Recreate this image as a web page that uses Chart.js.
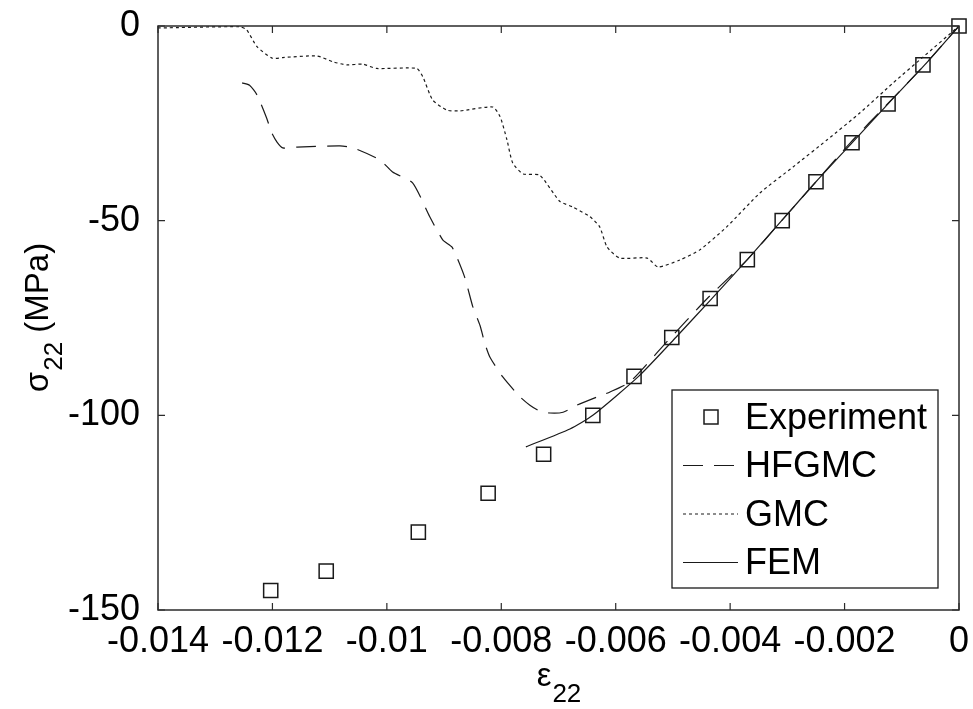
<!DOCTYPE html>
<html>
<head>
<meta charset="utf-8">
<script src="https://cdn.jsdelivr.net/npm/chart.js@4.4.1/dist/chart.umd.min.js"></script>
<style>
  html, body { margin: 0; padding: 0; background: #fff; }
  #wrap { width: 973px; height: 709px; }
</style>
</head>
<body>
<div id="wrap"><canvas id="myChart" width="973" height="709"></canvas></div>
<script>
// axis ticks
const xTicks = [-0.014, -0.012, -0.01, -0.008, -0.006, -0.004, -0.002, 0]
const xTickLabels = ['-0.014', '-0.012', '-0.01', '-0.008', '-0.006', '-0.004', '-0.002', '0']
const yTicks = [-150, -100, -50, 0]
const yTickLabels = ['-150', '-100', '-50', '0']

// Experiment (squares)
const expX = [0, -0.00063, -0.00124, -0.00187, -0.0025, -0.00309, -0.0037, -0.00435, -0.00502, -0.00568, -0.0064, -0.00726, -0.00823, -0.00945, -0.01106, -0.01203]
const expY = [0, -10, -20, -30, -40, -50, -60, -70, -80, -90, -100, -110, -120, -130, -140, -145]

// HFGMC (dashed)
const hfgmcX = [-0.01253, -0.0124, -0.01227, -0.0121, -0.01201, -0.01192, -0.01182, -0.01157, -0.01082, -0.01059, -0.01012, -0.0099, -0.00955, -0.00925, -0.00902, -0.00886, -0.00864, -0.0085, -0.00837, -0.00829, -0.0082, -0.00797, -0.00767, -0.0075, -0.00733, -0.00715, -0.00692, -0.00668, -0.00633, -0.0061, -0.00575, -0.0051, -0.0044, -0.0037, -0.0031, -0.0025, -0.0019, -0.00125, -0.0006, 0]
const hfgmcY = [-14.6, -15.2, -17.7, -23.7, -27.5, -29.8, -31.3, -31.1, -30.8, -31.3, -34.4, -37.5, -40.3, -49, -55, -56.8, -64.5, -72, -77, -81.4, -85, -90.2, -95.3, -97.4, -98.9, -99.4, -99.2, -97.4, -95.3, -94, -91.4, -81, -70, -60, -50, -40, -30, -20, -10, 0]

// GMC (dotted)
const gmcX = [-0.014, -0.01257, -0.01245, -0.01227, -0.012, -0.01182, -0.01122, -0.01094, -0.0107, -0.01042, -0.01018, -0.00948, -0.00937, -0.0092, -0.00895, -0.00872, -0.00815, -0.00802, -0.0079, -0.0078, -0.00762, -0.00733, -0.00698, -0.00675, -0.00645, -0.00628, -0.00615, -0.00593, -0.00545, -0.00526, -0.00488, -0.00453, -0.00406, -0.00348, -0.0029, -0.00231, -0.00173, -0.00115, -0.00063, 0]
const gmcY = [-0.5, -0.2, -1, -5.3, -8.3, -8.1, -7.7, -9.2, -10, -9.8, -10.9, -10.9, -13.1, -19, -21.6, -21.8, -20.8, -23.3, -29.3, -35.2, -38, -38.3, -45, -46.5, -49, -51.6, -56.8, -59.6, -59.6, -61.9, -60.1, -57.5, -51.6, -42.9, -36.2, -29.3, -22.3, -14.6, -8, 0]

// FEM (solid)
const femX = [-0.00757, -0.0068, -0.0064, -0.0056, -0.00495, -0.00432, -0.0037, -0.0031, -0.0025, -0.00187, -0.00124, -0.0006, 0]
const femY = [-108.1, -103.5, -100, -90, -80, -70, -60, -50, -40, -30, -20, -10, 0]

const pts = (xs, ys) => xs.map((x, i) => ({x: x, y: ys[i]}))

const FONT = "'Liberation Sans', Arial, sans-serif"
const INK = '#1a1a1a'

// draws box, inward ticks, axis titles with subscripts and the legend
const matlabLook = {
    id: 'matlabLook',
    afterDraw(chart) {
        const ctx = chart.ctx
        const a = chart.chartArea
        const xs = chart.scales.x, ys = chart.scales.y
        ctx.save()
        ctx.strokeStyle = '#2b2b2b'
        ctx.lineWidth = 1.5
        ctx.strokeRect(a.left, a.top, a.right - a.left, a.bottom - a.top)

        ctx.lineWidth = 1.2
        ctx.beginPath()
        xs.ticks.forEach(t => {
            const px = xs.getPixelForValue(t.value)
            ctx.moveTo(px, a.bottom); ctx.lineTo(px, a.bottom - 7)
            ctx.moveTo(px, a.top); ctx.lineTo(px, a.top + 7)
        })
        ys.ticks.forEach(t => {
            const py = ys.getPixelForValue(t.value)
            ctx.moveTo(a.left, py); ctx.lineTo(a.left + 7, py)
            ctx.moveTo(a.right, py); ctx.lineTo(a.right - 7, py)
        })
        ctx.stroke()

        // x title: epsilon_22
        ctx.fillStyle = '#000'
        ctx.textBaseline = 'alphabetic'
        ctx.textAlign = 'left'
        const mainF = '33px ' + FONT, subF = '26px ' + FONT
        ctx.font = mainF
        const wE = ctx.measureText('ε').width
        ctx.font = subF
        const wS = ctx.measureText('22').width
        let cx = (a.left + a.right) / 2 - (wE + wS) / 2
        ctx.font = mainF
        ctx.fillText('ε', cx, 686)
        ctx.font = subF
        ctx.fillText('22', cx + wE + 1, 702)

        // y title: sigma_22 (MPa)
        ctx.save()
        ctx.translate(48, (a.top + a.bottom) / 2)
        ctx.rotate(-Math.PI / 2)
        ctx.font = mainF
        const wSig = ctx.measureText('σ').width
        const wRest = ctx.measureText(' (MPa)').width
        ctx.font = subF
        const wSub = ctx.measureText('22').width
        let sx = -(wSig + wSub + wRest) / 2
        ctx.font = mainF
        ctx.fillText('σ', sx, 0)
        ctx.font = subF
        ctx.fillText('22', sx + wSig + 1, 14)
        ctx.font = mainF
        ctx.fillText(' (MPa)', sx + wSig + wSub + 1, 0)
        ctx.restore()

        // legend box
        const L = {x: 672, y: 390, w: 266, h: 198}
        ctx.fillStyle = '#fff'
        ctx.fillRect(L.x, L.y, L.w, L.h)
        ctx.strokeStyle = '#1a1a1a'
        ctx.lineWidth = 1.3
        ctx.strokeRect(L.x, L.y, L.w, L.h)
        ctx.font = '36px ' + FONT
        ctx.textBaseline = 'middle'
        chart.data.datasets.forEach((ds, i) => {
            const cy = 417 + i * 48.5
            ctx.save()
            ctx.strokeStyle = ds.borderColor
            if (ds.showLine) {
                ctx.lineWidth = ds.borderWidth
                ctx.setLineDash(ds.borderDash || [])
                ctx.beginPath()
                ctx.moveTo(683, cy); ctx.lineTo(738, cy)
                ctx.stroke()
            } else {
                ctx.lineWidth = ds.pointBorderWidth
                ctx.strokeRect(704, cy - 7, 14, 14)
            }
            ctx.restore()
            ctx.fillStyle = '#000'
            ctx.fillText(ds.label, 745, cy + 2)
        })
        ctx.restore()
    }
}

new Chart('myChart', {
    type: 'scatter',
    data: {
        datasets: [{
            label: 'Experiment',
            data: pts(expX, expY),
            showLine: false,
            pointStyle: 'rect',
            pointRadius: 10,
            pointBorderWidth: 1.5,
            borderColor: INK,
            backgroundColor: 'rgba(0,0,0,0)',
            clip: false,
            order: 0
        }, {
            label: 'HFGMC',
            data: pts(hfgmcX, hfgmcY),
            showLine: true,
            borderColor: INK,
            borderWidth: 1.2,
            borderDash: [20, 11],
            pointRadius: 0,
            tension: 0.2
        }, {
            label: 'GMC',
            data: pts(gmcX, gmcY),
            showLine: true,
            borderColor: INK,
            borderWidth: 1.2,
            borderDash: [3, 3],
            pointRadius: 0,
            tension: 0.2
        }, {
            label: 'FEM',
            data: pts(femX, femY),
            showLine: true,
            borderColor: INK,
            borderWidth: 1.2,
            pointRadius: 0,
            tension: 0.2
        }]
    },
    options: {
        responsive: false,
        animation: false,
        events: [],
        layout: {padding: {top: 26, right: 14, left: 0, bottom: 0}},
        plugins: {legend: {display: false}, tooltip: {enabled: false}},
        scales: {
            x: {
                type: 'linear', min: -0.014, max: 0,
                afterBuildTicks: s => { s.ticks = xTicks.map(v => ({value: v})) },
                afterFit: s => { s.height = 99; s.paddingLeft = 0; s.paddingRight = 0 },
                grid: {display: false},
                border: {display: false},
                ticks: {
                    color: '#000', padding: 2, maxRotation: 0,
                    font: {family: FONT, size: 36},
                    callback: (v) => xTickLabels[xTicks.indexOf(v)] ?? ''
                }
            },
            y: {
                type: 'linear', min: -150, max: 0,
                afterBuildTicks: s => { s.ticks = yTicks.map(v => ({value: v})) },
                afterFit: s => { s.width = 158; s.paddingTop = 0; s.paddingBottom = 0 },
                grid: {display: false},
                border: {display: false},
                ticks: {
                    color: '#000', padding: 10,
                    font: {family: FONT, size: 36},
                    callback: (v) => yTickLabels[yTicks.indexOf(v)] ?? ''
                }
            }
        }
    },
    plugins: [matlabLook]
});
</script>
</body>
</html>
